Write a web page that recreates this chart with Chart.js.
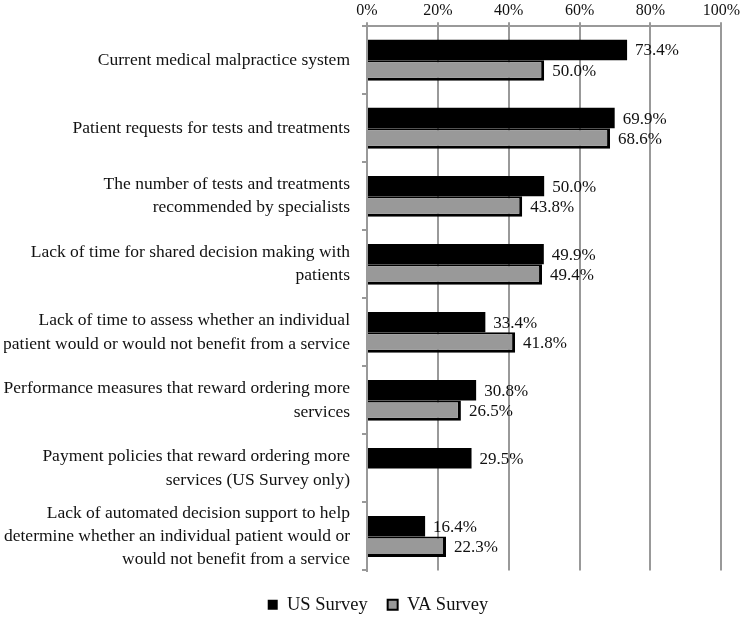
<!DOCTYPE html>
<html><head><meta charset="utf-8">
<script src="https://cdn.jsdelivr.net/npm/chart.js@4"></script>
<style>html,body{margin:0;padding:0;background:#fff}#w{width:742px;height:617px}</style>
</head><body><div id="w"><canvas id="c" width="742" height="617"></canvas></div>
<script>
const categories = [
  ["Current medical malpractice system"],
  ["Patient requests for tests and treatments"],
  ["The number of tests and treatments", "recommended by specialists"],
  ["Lack of time for shared decision making with", "patients"],
  ["Lack of time to assess whether an individual", "patient would or would not benefit from a service"],
  ["Performance measures that reward ordering more", "services"],
  ["Payment policies that reward ordering more", "services (US Survey only)"],
  ["Lack of automated decision support to help", "determine whether an individual patient would or", "would not benefit from a service"]
];
const usSurvey = [73.4, 69.9, 50.0, 49.9, 33.4, 30.8, 29.5, 16.4];
const vaSurvey = [50.0, 68.6, 43.8, 49.4, 41.8, 26.5, null, 22.3];
const xTicks = [0, 20, 40, 60, 80, 100];

const FONT = "'Liberation Serif', 'Times New Roman', serif";

const valueLabels = {
  id: 'valueLabels',
  afterDatasetsDraw(chart) {
    const ctx = chart.ctx;
    ctx.save();
    ctx.font = "17px " + FONT;
    ctx.fillStyle = '#111';
    ctx.textBaseline = 'middle';
    ctx.textAlign = 'left';
    chart.data.datasets.forEach((ds, i) => {
      const meta = chart.getDatasetMeta(i);
      meta.data.forEach((bar, j) => {
        const v = ds.data[j];
        if (v === null || v === undefined) return;
        ctx.fillText(v.toFixed(1) + '%', bar.x + 8, bar.y + 1);
      });
    });
    ctx.restore();
  }
};

const shiftLegend = {
  id: 'shiftLegend',
  afterLayout(chart) {
    if (chart.legend) { chart.legend.left += 15; chart.legend.right += 15; }
  }
};

new Chart(document.getElementById('c'), {
  type: 'bar',
  data: {
    labels: categories,
    datasets: [
      { label: 'US Survey', data: usSurvey, backgroundColor: '#000', borderColor: '#000', borderWidth: 0,
        categoryPercentage: 0.6, barPercentage: 1.0 },
      { label: 'VA Survey', data: vaSurvey, backgroundColor: '#999', borderColor: '#000', borderWidth: {top:2,right:3,bottom:3,left:0}, borderSkipped: false,
        categoryPercentage: 0.6, barPercentage: 1.0 }
    ]
  },
  options: {
    indexAxis: 'y',
    responsive: false,
    animation: false,
    layout: { padding: { left: 4, right: 20, top: -1, bottom: -7 } },
    scales: {
      x: {
        position: 'top',
        min: 0, max: 100,
        afterBuildTicks(axis) { axis.ticks = xTicks.map(v => ({ value: v })); },
        ticks: { callback: v => v + '%', color: '#111', font: { family: FONT, size: 16 }, padding: 2 },
        grid: { color: '#999', lineWidth: 2, tickLength: 4, drawTicks: true },
        border: { display: true, color: '#999', width: 2 }
      },
      y: {
        afterFit(scale) { scale.paddingTop = 0; scale.paddingBottom = 0; scale.width = 363; },
        ticks: { color: '#111', font: { family: FONT, size: 17.5, lineHeight: 1.32 }, padding: 12, autoSkip: false },
        grid: { offset: true, drawOnChartArea: false, color: '#999', lineWidth: 2, tickLength: 5 },
        border: { display: true, color: '#999', width: 2 }
      }
    },
    plugins: {
      legend: {
        position: 'bottom',
        title: { display: true, text: '', padding: { top: 4, bottom: 0 }, font: { size: 1, lineHeight: 1 } },
        labels: {
          color: '#111',
          font: { family: FONT, size: 18.5 },
          boxWidth: 10, boxHeight: 10, padding: 20,
          generateLabels(chart) {
            return chart.data.datasets.map((ds, i) => ({
              text: ds.label, fillStyle: ds.backgroundColor, strokeStyle: '#000', fontColor: '#111',
              lineWidth: i === 1 ? 2 : 0, datasetIndex: i, hidden: false
            }));
          }
        }
      },
      tooltip: { enabled: false }
    }
  },
  plugins: [valueLabels, shiftLegend]
});
</script></body></html>
